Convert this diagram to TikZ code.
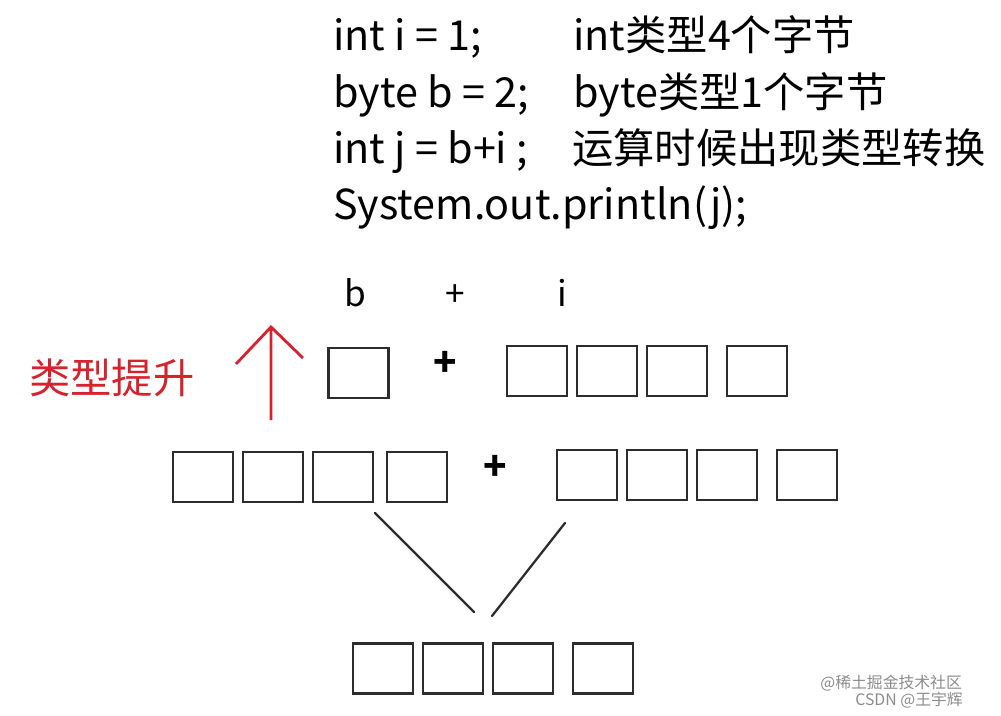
\documentclass[tikz,border=0pt]{standalone}
\usepackage{fontspec}
\setmainfont{Noto Sans CJK SC}
\definecolor{promo}{RGB}{214,34,44}
\definecolor{edge}{RGB}{45,45,45}
\begin{document}
\begin{tikzpicture}[
  cell/.style={draw=edge,line width=1.3pt,minimum width=1.2cm,minimum height=1cm,inner sep=0pt},
  code/.style={anchor=base west,inner sep=0pt,font=\fontsize{23.5}{28}\selectfont},
  sym/.style={anchor=base,inner sep=0pt,font=\fontsize{20}{24}\selectfont},
  op/.style={inner sep=0pt,font=\fontsize{22}{24}\selectfont\bfseries},
  wmark/.style={inner sep=0pt,text=black!45,font=\fontsize{9}{11}\selectfont}]
\useasboundingbox (0,0) rectangle (20.02,-14.32);
\node[code] (c1) at (6.66,-1.02) {int i = 1;};
\node[code] (c2) at (6.66,-2.15) {byte b = 2;};
\node[code] (c3) at (6.66,-3.27) {int j = b+i ;};
\node[code] (c4) at (6.66,-4.40) {System.out.println(j);};
\node[code] (t1) at (11.46,-1.02) {int类型4个字节};
\node[code] (t2) at (11.46,-2.15) {byte类型1个字节};
\node[code] (t3) at (11.44,-3.27) {运算时候出现类型转换};
\node[sym] (lb) at (7.10,-6.14) {b};
\node[sym] (lp) at (9.10,-6.14) {+};
\node[sym] (li) at (11.24,-6.14) {i};
\node[code,anchor=center,text=promo] (up) at (2.24,-7.56) {类型提升};
\coordinate (tip) at (5.42,-6.54);
\coordinate (foot) at (5.42,-8.40);
\coordinate (armL) at (4.72,-7.28);
\coordinate (armR) at (6.06,-7.16);
\draw[promo,line width=1.6pt] (foot) -- (tip) (armL) -- (tip) -- (armR);
\node[cell] (b1) at (7.17,-7.46) {};
\node[op] (s1) at (8.90,-7.28) {+};
\foreach \x [count=\k] in {10.74,12.14,13.54,15.14}
  \node[cell] (i\k) at (\x,-7.42) {};
\foreach \x [count=\k] in {4.06,5.46,6.86,8.34}
  \node[cell] (p\k) at (\x,-9.54) {};
\node[op] (s2) at (9.90,-9.36) {+};
\foreach \x [count=\k] in {11.74,13.14,14.54,16.14}
  \node[cell] (q\k) at (\x,-9.50) {};
\foreach \x [count=\k] in {7.66,9.06,10.46,12.06}
  \node[cell] (r\k) at (\x,-13.37) {};
\coordinate (m1) at (7.50,-10.26);
\coordinate (m2) at (9.48,-12.24);
\coordinate (n1) at (11.30,-10.46);
\coordinate (n2) at (9.84,-12.32);
\draw[edge,line width=1.3pt,line cap=round] (m1) -- (m2) (n1) -- (n2);
\node[wmark,anchor=west] (w1) at (16.40,-13.66) {@稀土掘金技术社区};
\node[wmark,anchor=west] (w2) at (17.10,-14.00) {CSDN @王宇辉};
\end{tikzpicture}
\end{document}
